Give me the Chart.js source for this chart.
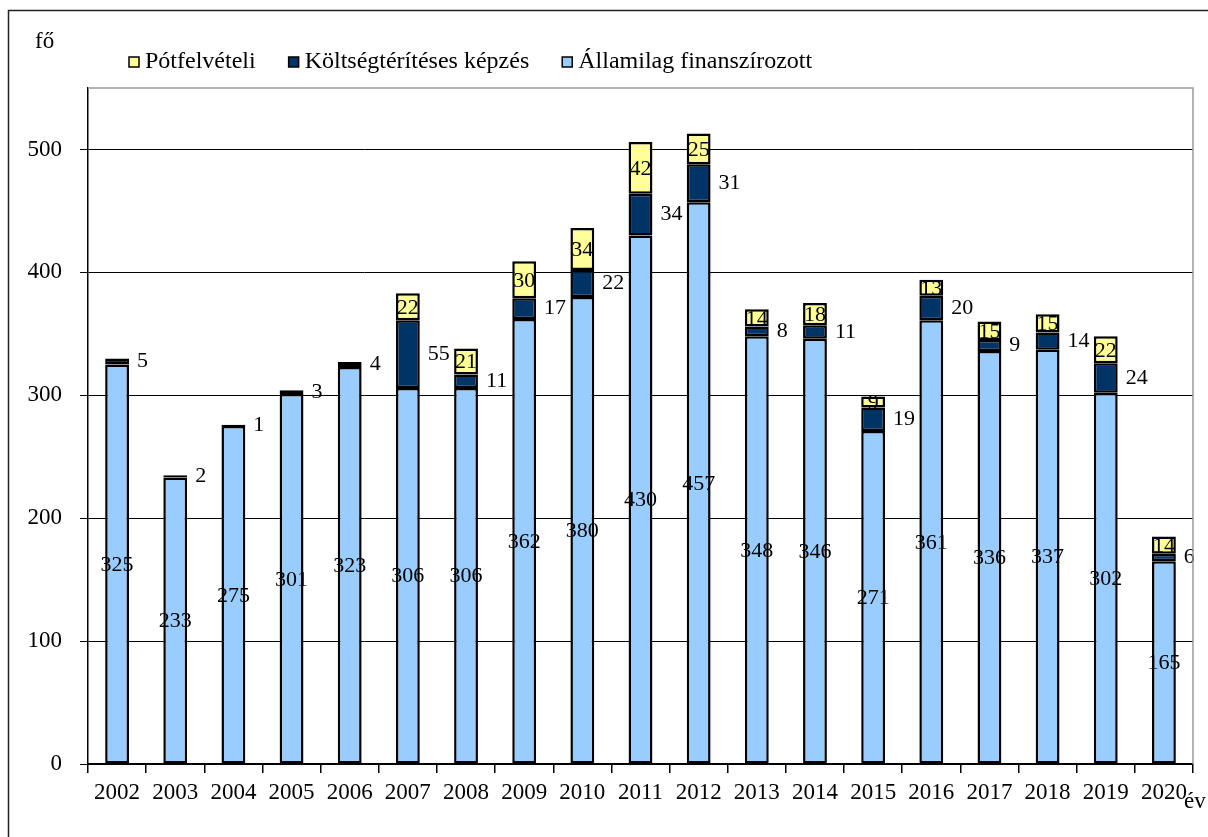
<!DOCTYPE html>
<html>
<head>
<meta charset="utf-8">
<title>Felvett hallgatók 2002-2020</title>
<script src="https://cdn.jsdelivr.net/npm/chart.js@4.4.1/dist/chart.umd.min.js"></script>
<style>
  html, body { margin: 0; padding: 0; background: #fff; }
  canvas { display: block; }
</style>
</head>
<body>
<canvas id="chart" width="1208" height="837"></canvas>
<script>
// Data
const years = ['2002', '2003', '2004', '2005', '2006', '2007', '2008', '2009', '2010', '2011',
               '2012', '2013', '2014', '2015', '2016', '2017', '2018', '2019', '2020'];
const allami = [325, 233, 275, 301, 323, 306, 306, 362, 380, 430, 457, 348, 346, 271, 361, 336, 337, 302, 165];
const koltseg = [5, 2, 1, 3, 4, 55, 11, 17, 22, 34, 31, 8, 11, 19, 20, 9, 14, 24, 6];
const potfelveteli = [null, null, null, null, null, 22, 21, 30, 34, 42, 25, 14, 18, 9, 13, 15, 15, 22, 14];
const yTicks = [0, 100, 200, 300, 400, 500];
const yMax = 550;

const FONT = '"Liberation Serif", "Times New Roman", serif';
const COLORS = { allami: '#99CCFF', koltseg: '#003366', pot: '#FFFF99' };

// frame, legend, unit labels
const decorations = {
    id: 'decorations',
    beforeDraw(chart) {
        const ctx = chart.ctx;
        ctx.save();
        ctx.fillStyle = '#fff';
        ctx.fillRect(0, 0, chart.width, chart.height);
        ctx.strokeStyle = '#222';
        ctx.lineWidth = 1.5;
        ctx.beginPath();
        ctx.moveTo(8.5, chart.height);
        ctx.lineTo(8.5, 10.5);
        ctx.lineTo(chart.width, 10.5);
        ctx.stroke();
        ctx.restore();
    },
    afterDraw(chart) {
        const ctx = chart.ctx;
        const area = chart.chartArea;
        ctx.save();

        // top and right edge of the plot area
        ctx.strokeStyle = '#9a9a9a';
        ctx.lineWidth = 1.5;
        ctx.beginPath();
        ctx.moveTo(area.left, area.top);
        ctx.lineTo(area.right, area.top);
        ctx.lineTo(area.right, area.bottom);
        ctx.stroke();

        // legend (reverse order of the stack)
        ctx.font = '24px ' + FONT;
        ctx.textBaseline = 'middle';
        ctx.textAlign = 'left';
        let x = 129;
        const y = 62;
        [2, 1, 0].forEach(i => {
            const ds = chart.data.datasets[i];
            ctx.fillStyle = ds.backgroundColor;
            ctx.fillRect(x, y - 5, 10, 10);
            ctx.strokeStyle = '#000';
            ctx.lineWidth = 1.5;
            ctx.strokeRect(x, y - 5, 10, 10);
            ctx.fillStyle = '#000';
            ctx.fillText(ds.label, x + 16, y);
            x += 16 + ctx.measureText(ds.label).width + 33;
        });

        // unit labels
        ctx.font = '23px ' + FONT;
        ctx.fillText('fő', 35, 42);
        ctx.fillText('év', 1184, 802);
        ctx.restore();
    }
};

// value labels on the segments
const valueLabels = {
    id: 'valueLabels',
    afterDatasetsDraw(chart) {
        const ctx = chart.ctx;
        ctx.save();
        ctx.font = '22px ' + FONT;
        ctx.fillStyle = '#000';
        ctx.textBaseline = 'middle';
        chart.data.datasets.forEach((ds, di) => {
            const meta = chart.getDatasetMeta(di);
            meta.data.forEach((bar, i) => {
                const v = ds.data[i];
                if (v === null || v === undefined) return;
                const p = bar.getProps(['x', 'y', 'base', 'width'], true);
                const mid = (p.y + p.base) / 2;
                if (di === 1) {
                    ctx.textAlign = 'left';
                    ctx.fillText(String(v), p.x + p.width / 2 + 8, mid);
                } else {
                    ctx.textAlign = 'center';
                    ctx.fillText(String(v), p.x, mid + 1);
                }
            });
        });
        ctx.restore();
    }
};

new Chart(document.getElementById('chart').getContext('2d'), {
    type: 'bar',
    data: {
        labels: years,
        datasets: [
            { label: 'Államilag finanszírozott', data: allami, backgroundColor: COLORS.allami },
            { label: 'Költségtérítéses képzés', data: koltseg, backgroundColor: COLORS.koltseg },
            { label: 'Pótfelvételi', data: potfelveteli, backgroundColor: COLORS.pot }
        ]
    },
    options: {
        responsive: false,
        animation: false,
        layout: { padding: { top: 88, right: 15, left: 0, bottom: 0 } },
        datasets: {
            bar: {
                borderColor: '#000',
                borderWidth: 2.5,
                borderSkipped: false,
                categoryPercentage: 1,
                barPercentage: 0.41
            }
        },
        plugins: {
            legend: { display: false },
            tooltip: { enabled: false }
        },
        scales: {
            x: {
                stacked: true,
                offset: true,
                afterFit: scale => { scale.height = 73; },
                grid: {
                    display: true,
                    drawOnChartArea: false,
                    drawTicks: true,
                    tickLength: 9,
                    offset: true,
                    color: '#000',
                    lineWidth: 1.5
                },
                border: { color: '#000', width: 1.5 },
                ticks: {
                    color: '#000',
                    padding: 6,
                    maxRotation: 0,
                    font: { family: FONT, size: 23 }
                }
            },
            y: {
                stacked: true,
                min: 0,
                max: yMax,
                afterFit: scale => { scale.width = 88; },
                afterBuildTicks: axis => {
                    axis.ticks = yTicks.map(v => ({ value: v }));
                },
                grid: {
                    color: '#000',
                    lineWidth: 1,
                    tickLength: 8
                },
                border: { color: '#000', width: 1.5 },
                ticks: {
                    color: '#000',
                    padding: 18,
                    font: { family: FONT, size: 23 }
                }
            }
        }
    },
    plugins: [decorations, valueLabels]
});
</script>
</body>
</html>
